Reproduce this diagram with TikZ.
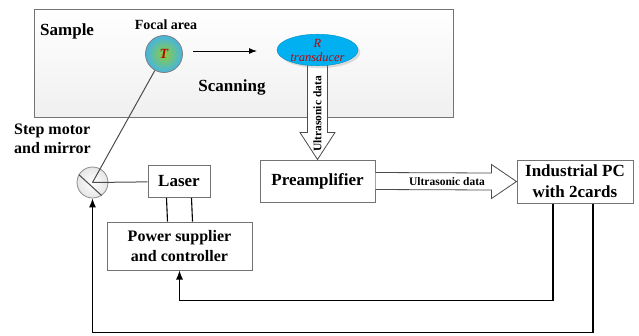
\documentclass[tikz,border=0pt]{standalone}
\usepackage{fontspec}
\setmainfont{Liberation Serif}
\usetikzlibrary{shapes.geometric,arrows.meta,calc,shadows}

\definecolor{darkred}{RGB}{192,0,0}
\definecolor{cyanfill}{RGB}{0,176,240}
\definecolor{focgreen}{RGB}{140,205,60}
\definecolor{focblue}{RGB}{70,180,225}

\begin{document}
\begin{tikzpicture}[x = 1pt, y = -1pt,
        box/.style = {draw = black!55, line width = 1pt, fill = white, align = center, inner sep = 0pt, font = \fontsize{17}{21}\selectfont\bfseries},
        txt/.style = {inner sep = 0pt, font = \fontsize{17}{19}\selectfont\bfseries},
        small/.style = {inner sep = 0pt, font = \fontsize{11.5}{12}\selectfont\bfseries},
        link/.style = {draw = black, line width = 1.1pt},
        feed/.style = {link, -{Latex[length = 9pt, width = 7pt]}},
        fat/.style = {draw = black!70, line width = 0.8pt, fill = white}]
        \useasboundingbox (0, 0) rectangle (639, 335);
        % sample area
        \node (sample) [draw = black!55, line width = 1pt, top color = white, bottom color = black!6, minimum width = 419pt, minimum height = 108pt] at (243.5, 63) {};
        \node (samplelbl) [txt, anchor = west] at (40, 31) {Sample};
        \node (foclbl) [inner sep = 0pt, font = \fontsize{14}{14}\selectfont\bfseries] at (166, 25) {Focal area};
        \node (scanlbl) [txt] at (232, 87) {Scanning};
        \node (foc) [circle, draw = black!50, line width = 0.8pt, inner color = focgreen, outer color = focblue, minimum size = 37pt, inner sep = 0pt, text = darkred, font = \fontsize{14}{14}\selectfont\bfseries\itshape] at (164, 54) {T};
        \coordinate (scanA) at (193, 51);
        \coordinate (scanB) at (257, 51);
        \draw[draw = black, line width = 1pt, -{Latex[length = 8pt, width = 6pt]}] (scanA) -- (scanB);

        % blocks
        \node (laser) [box, minimum width = 62pt, minimum height = 32pt] at (179, 181.5) {Laser};
        \node (power) [box, minimum width = 145pt, minimum height = 48pt, font = \fontsize{16}{20}\selectfont\bfseries] at (179.5, 246) {Power supplier\\and controller};
        \node (pre) [box, minimum width = 115pt, minimum height = 42pt] at (317.5, 181) {Preamplifier};
        \node (pc) [box, minimum width = 116pt, minimum height = 43pt] at (575, 181.5) {Industrial PC\\with 2cards};
        \node (mir) [circle, draw = black!45, line width = 0.8pt, inner color = white, outer color = black!10, minimum size = 31pt, inner sep = 0pt] at (92.5, 182.5) {};
        \node (steplbl) [txt, align = left, anchor = north west, font = \fontsize{16}{19}\selectfont\bfseries] at (14, 124) {Step motor\\and mirror};

        % ultrasonic data arrows
        \draw[fat] ($(pre.north) + (-10, -97)$) -- ($(pre.north) + (-10, -27)$) -- ($(pre.north) + (-17.5, -27)$) -- (pre.north) -- ($(pre.north) + (17.5, -27)$) -- ($(pre.north) + (10, -27)$) -- ($(pre.north) + (10, -97)$);
        \node (vdata) [small, rotate = 90] at (317.5, 114) {Ultrasonic data};
        \node (trans) [ellipse, draw = cyanfill!80!black, fill = cyanfill, minimum width = 81pt, minimum height = 26pt, inner sep = 0pt, align = center, text = darkred, font = \fontsize{12.5}{14}\selectfont\itshape, drop shadow = {opacity = 0.25}] at (317.5, 50) {R\\transducer};
        \draw[fat] ($(pre.east) + (0, -8.5)$) -- ($(pc.west) + (-25, -8.5)$) -- ($(pc.west) + (-25, -17)$) -- (pc.west) -- ($(pc.west) + (-25, 17)$) -- ($(pc.west) + (-25, 8.5)$) -- ($(pre.east) + (0, 8.5)$);
        \node (hdata) [small] at (447, 182) {Ultrasonic data};

        % optical path
        \draw[draw = black!70, line width = 1pt] (mir.center) -- (foc);
        \draw[draw = black!70, line width = 1pt] (mir.150) -- (mir.-55);
        \draw[draw = black!70, line width = 1pt] (mir.center) -- (laser);
        \draw[link] ($(laser.south) + (-12.5, 0)$) -- ($(power.north) + (-12, 0)$);
        \draw[link] ($(laser.south) + (12.5, 0)$) -- ($(power.north) + (13, 0)$);

        % control lines
        \draw[feed] ($(pc.south) + (-22, 0)$) -- ++(0, 97) -| (power.south);
        \draw[feed] ($(pc.south) + (18, 0)$) -- ++(0, 129) -| (mir.south);
    \end{tikzpicture}
\end{document}
